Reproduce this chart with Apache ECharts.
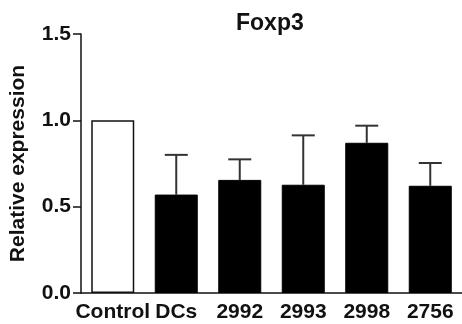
<!DOCTYPE html>
<html>
<head>
<meta charset="utf-8">
<script src="https://cdn.jsdelivr.net/npm/echarts@6/dist/echarts.min.js"></script>
<style>
  html, body { margin: 0; padding: 0; background: #fff; }
  #chart { width: 462px; height: 324px; }
</style>
</head>
<body>
<div id="chart"></div>
<script>
// data
var categories = ['Control', 'DCs', '2992', '2993', '2998', '2756']
var means = [1.0, 0.57, 0.655, 0.627, 0.87, 0.621]
var errTops = [1.0, 0.80, 0.774, 0.913, 0.969, 0.753]
var yTicks = [0, 0.5, 1.0, 1.5]

var font = 'Liberation Sans, Arial, Helvetica, sans-serif'

var barData = means.map(function (v, i) {
  return {
    value: v,
    itemStyle: i === 0 ? { color: '#fff', borderColor: '#111', borderWidth: 1.5 } : { color: '#000', borderColor: '#000', borderWidth: 1 }
  }
})

// error bars: only drawn above the mean
var errData = []
for (var i = 0; i < categories.length; i++) {
  if (errTops[i] > means[i]) errData.push([i, means[i], errTops[i]])
}

var chart = echarts.init(document.getElementById('chart'))
chart.setOption({
  animation: false,
  backgroundColor: '#fff',
  title: {
    text: 'Foxp3',
    left: 236,
    top: 12,
    padding: 0,
    textStyle: { fontFamily: font, fontWeight: 'bold', fontSize: 23, color: '#111' }
  },
  grid: { left: 80, top: 34, width: 386, bottom: 31 },
  xAxis: {
    type: 'category',
    data: categories,
    axisLine: { lineStyle: { color: '#111', width: 1.5 } },
    axisTick: { alignWithLabel: true, length: 7, lineStyle: { color: '#111', width: 1.5 } },
    axisLabel: { margin: 9, fontFamily: font, fontWeight: 'bold', fontSize: 21, color: '#111', interval: 0 }
  },
  yAxis: {
    type: 'value',
    min: 0,
    max: 1.5,
    interval: 0.5,
    name: 'Relative expression',
    nameLocation: 'middle',
    nameGap: 52,
    nameTextStyle: { fontFamily: font, fontWeight: 'bold', fontSize: 21, color: '#111' },
    axisLine: { show: true, lineStyle: { color: '#111', width: 1.5 } },
    axisTick: { show: true, length: 8, lineStyle: { color: '#111', width: 1.5 } },
    splitLine: { show: false },
    axisLabel: {
      margin: 10, fontFamily: font, fontWeight: 'bold', fontSize: 21, color: '#111',
      formatter: function (v) { return yTicks.indexOf(v) >= 0 ? v.toFixed(1) : '' }
    }
  },
  series: [
    {
      type: 'bar',
      data: barData,
      barWidth: 43
    },
    {
      type: 'custom',
      data: errData,
      z: 1,
      renderItem: function (params, api) {
        var x = api.value(0)
        var lo = api.coord([x, api.value(1)])
        var hi = api.coord([x, api.value(2)])
        var half = 11.5
        var style = { stroke: '#333', lineWidth: 2 }
        return {
          type: 'group',
          children: [
            { type: 'line', shape: { x1: lo[0], y1: lo[1], x2: hi[0], y2: hi[1] }, style: style },
            { type: 'line', shape: { x1: hi[0] - half, y1: hi[1], x2: hi[0] + half, y2: hi[1] }, style: style }
          ]
        }
      }
    }
  ]
})
</script>
</body>
</html>
